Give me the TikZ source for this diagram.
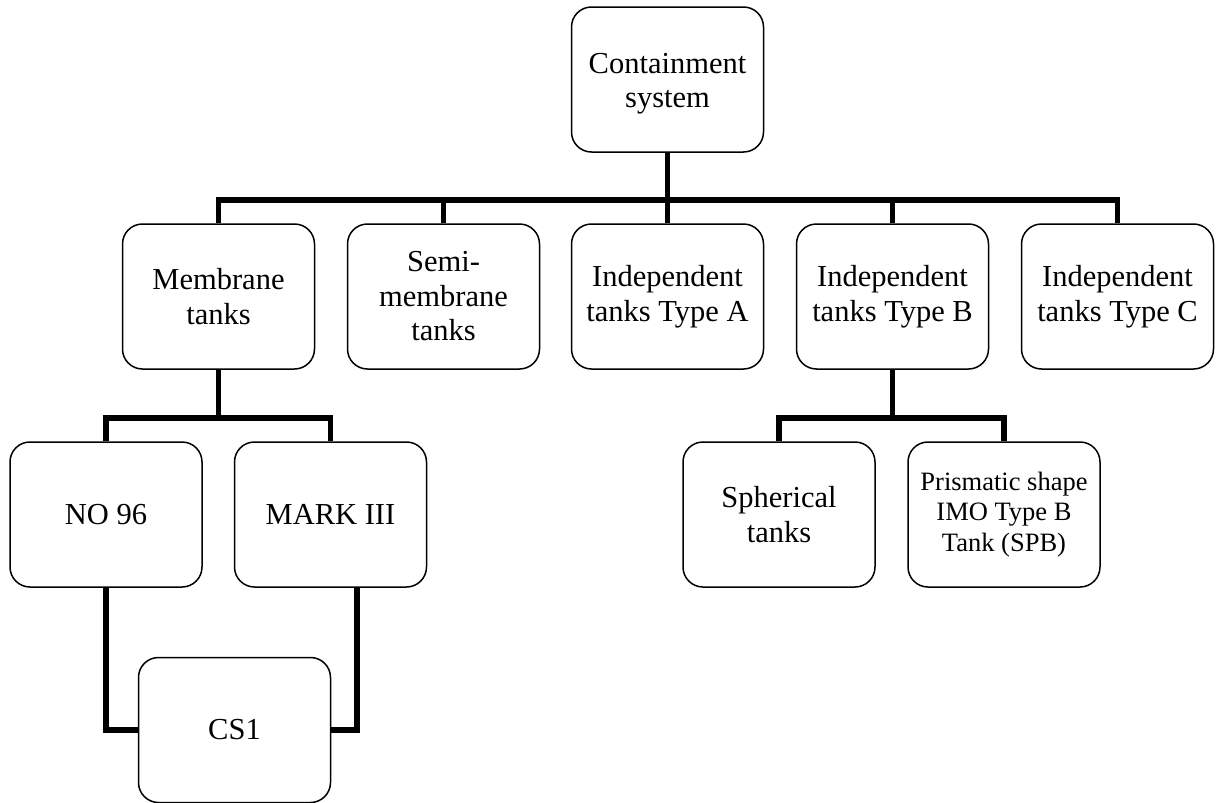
\documentclass[tikz,border=0pt]{standalone}
\usepackage{fontspec}
\setmainfont{Liberation Serif}
\begin{document}
\begin{tikzpicture}[x=1pt,y=-1pt,
  box/.style={draw, line width=1.5pt, rounded corners=20pt, minimum width=192pt, minimum height=145pt, inner sep=0pt, align=center, font=\fontsize{30.5}{34.5}\selectfont},
  smalltext/.style={font=\fontsize{26.5}{30.5}\selectfont},
  conn/.style={line width=5.5pt, line join=miter, line cap=butt}]
\useasboundingbox (0,0) rectangle (1218,803);
% nodes
\node[box] (top) at (667.5,79.5) {\rule{0pt}{29pt}Containment\\system};
\node[box] (mem) at (218.5,296.5) {Membrane\\tanks};
\node[box] (semi) at (443.5,296.5) {Semi-\\membrane\\tanks};
\node[box] (ta) at (667.5,296.5) {Independent\\tanks Type A};
\node[box] (tb) at (892.5,296.5) {Independent\\tanks Type B};
\node[box] (tc) at (1117.5,296.5) {Independent\\tanks Type C};
\node[box] (no) at (106,514.5) {NO 96};
\node[box] (mk) at (330.5,514.5) {MARK III};
\node[box] (cs) at (234.5,730) {CS1};
\node[box] (sph) at (779,514.5) {Spherical\\tanks};
\node[box, smalltext] (pri) at (1004,514.5) {Prismatic shape\\IMO Type B\\Tank (SPB)};
% first level connectors
\coordinate (b1) at (667.5,200);
\draw[conn] (top.south) -- (b1);
\draw[conn] (mem.north) |- (b1) -| (tc.north);
\draw[conn] (semi.north) -- (semi.north |- b1);
\draw[conn] (ta.north) -- (ta.north |- b1);
\draw[conn] (tb.north) -- (tb.north |- b1);
% membrane children
\coordinate (b2) at (218.5,418);
\draw[conn] (mem.south) -- (b2);
\draw[conn] (no.north) |- (b2) -| (mk.north);
\draw[conn] (no.south) |- (cs.west);
\draw[conn] ([xshift=26.5pt]mk.south) |- (cs.east);
% type B children
\coordinate (b3) at (892.5,418);
\draw[conn] (tb.south) -- (b3);
\draw[conn] (sph.north) |- (b3) -| (pri.north);
\end{tikzpicture}
\end{document}
